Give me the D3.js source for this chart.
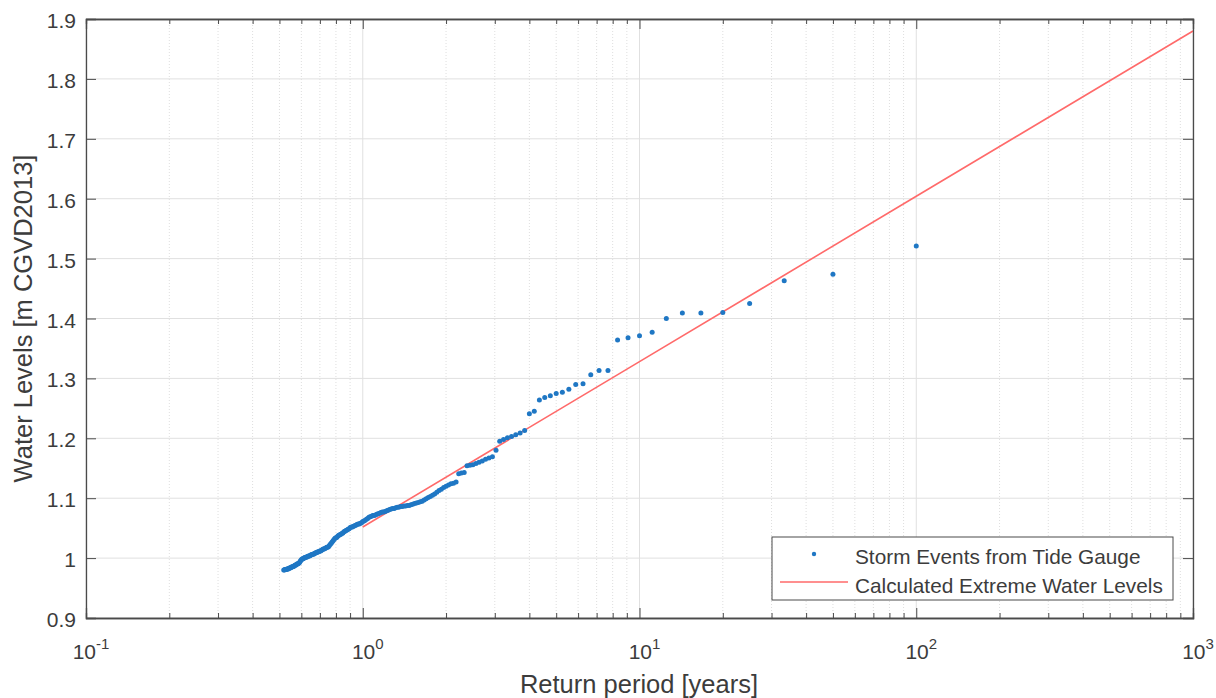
<!DOCTYPE html>
<html><head><meta charset="utf-8">
<script src="https://cdn.jsdelivr.net/npm/d3@7"></script>
<style>body{margin:0;background:#fff;} text{font-family:"Liberation Sans",Arial,sans-serif;}</style>
</head><body>
<svg id="c" width="1216" height="698"></svg>
<script>
// ---- data ----
const recordYears = 100; // plotting position: return period = recordYears / rank
const stormLevels = [
1.521,1.474,1.463,1.425,1.410,1.409,1.409,1.400,1.377,1.371,
1.368,1.364,1.313,1.313,1.306,1.291,1.290,1.282,1.277,1.275,
1.271,1.268,1.264,1.245,1.241,1.213,1.209,1.206,1.203,1.201,
1.198,1.195,1.180,1.169,1.167,1.165,1.162,1.160,1.158,1.156,
1.155,1.154,1.143,1.142,1.141,1.127,1.125,1.124,1.122,1.120,
1.118,1.115,1.113,1.110,1.107,1.105,1.103,1.101,1.099,1.097,
1.095,1.094,1.093,1.092,1.091,1.090,1.089,1.088,1.088,1.087,
1.087,1.086,1.086,1.085,1.085,1.084,1.083,1.083,1.082,1.081,
1.080,1.079,1.078,1.077,1.077,1.076,1.075,1.074,1.073,1.072,
1.071,1.071,1.070,1.069,1.068,1.066,1.065,1.063,1.062,1.061,
1.059,1.058,1.057,1.057,1.056,1.055,1.054,1.053,1.052,1.052,
1.051,1.049,1.048,1.047,1.046,1.045,1.044,1.042,1.041,1.040,
1.039,1.038,1.037,1.035,1.034,1.033,1.031,1.029,1.027,1.025,
1.023,1.021,1.019,1.018,1.018,1.017,1.016,1.015,1.015,1.014,
1.013,1.012,1.012,1.011,1.010,1.010,1.009,1.009,1.008,1.007,
1.007,1.006,1.006,1.005,1.004,1.004,1.003,1.003,1.002,1.002,
1.001,1.001,1.000,0.999,0.999,0.998,0.997,0.995,0.993,0.992,
0.991,0.990,0.990,0.989,0.988,0.988,0.987,0.986,0.986,0.985,
0.985,0.984,0.984,0.983,0.983,0.982,0.982,0.982,0.981,0.981,
0.981,0.980,0.980];
const lineReturnPeriods = [1, 10, 100, 1000];
const lineLevels = [1.052, 1.328, 1.604, 1.880];
const xTickExponents = [-1, 0, 1, 2, 3];
const yTicks = [0.9,1.0,1.1,1.2,1.3,1.4,1.5,1.6,1.7,1.8,1.9];
const yTickLabels = ["0.9","1","1.1","1.2","1.3","1.4","1.5","1.6","1.7","1.8","1.9"];
const legendLabels = ["Storm Events from Tide Gauge","Calculated Extreme Water Levels"];

// ---- layout ----
const L = 86, R = 1193, T = 19, B = 618;
const svg = d3.select("#c");
const x = d3.scaleLog().domain([0.1, 1000]).range([L, R]);
const y = d3.scaleLinear().domain([0.9, 1.9]).range([B, T]);
const axisCol = "#4a4a4a", textCol = "#3c3c3c";
const dotCol = "#1f77c4", lineCol = "#ff6a6a";

const minorX = [];
for (let e = -1; e < 3; e++) for (let m = 2; m <= 9; m++) minorX.push(m * Math.pow(10, e));
const majorX = xTickExponents.map(e => Math.pow(10, e));

const g = svg.append("g");
// grid
g.selectAll(".mgx").data(minorX).join("line")
  .attr("x1", d => x(d)).attr("x2", d => x(d)).attr("y1", T).attr("y2", B)
  .attr("stroke", "#dedede").attr("stroke-width", 1).attr("stroke-dasharray", "1,2");
g.selectAll(".gx").data(majorX).join("line")
  .attr("x1", d => x(d)).attr("x2", d => x(d)).attr("y1", T).attr("y2", B)
  .attr("stroke", "#e0e0e0").attr("stroke-width", 1);
g.selectAll(".gy").data(yTicks).join("line")
  .attr("x1", L).attr("x2", R).attr("y1", d => y(d)).attr("y2", d => y(d))
  .attr("stroke", "#e0e0e0").attr("stroke-width", 1);

// data line
const pts = lineReturnPeriods.map((p, i) => [p, lineLevels[i]]);
g.append("path").datum(pts)
  .attr("d", d3.line().x(d => x(d[0])).y(d => y(d[1])))
  .attr("fill", "none").attr("stroke", lineCol).attr("stroke-width", 1.6);

// scatter
g.selectAll(".pt").data(stormLevels).join("circle")
  .attr("cx", (d, i) => x(recordYears / (i + 1))).attr("cy", d => y(d))
  .attr("r", 2.5).attr("fill", dotCol);

// axes with inward ticks
const axB = d3.axisBottom(x).tickValues(majorX).tickSize(-10).tickFormat("");
const axT = d3.axisTop(x).tickValues(majorX).tickSize(-10).tickFormat("");
const axBm = d3.axisBottom(x).tickValues(minorX).tickSize(-5).tickFormat("");
const axTm = d3.axisTop(x).tickValues(minorX).tickSize(-5).tickFormat("");
const axL = d3.axisLeft(y).tickValues(yTicks).tickSize(-10).tickFormat("");
const axR = d3.axisRight(y).tickValues(yTicks).tickSize(-10).tickFormat("");
function style(sel) { sel.selectAll("path,line").attr("stroke", axisCol); sel.select(".domain").attr("stroke-width", 1.3); }
svg.append("g").attr("transform", `translate(0,${B})`).call(axB).call(style);
svg.append("g").attr("transform", `translate(0,${B})`).call(axBm).call(style);
svg.append("g").attr("transform", `translate(0,${T})`).call(axT).call(style);
svg.append("g").attr("transform", `translate(0,${T})`).call(axTm).call(style);
svg.append("g").attr("transform", `translate(${L},0)`).call(axL).call(style);
svg.append("g").attr("transform", `translate(${R},0)`).call(axR).call(style);

// y tick labels
svg.selectAll(".yl").data(yTicks).join("text")
  .attr("x", L - 10).attr("y", d => y(d) + 9).attr("text-anchor", "end")
  .attr("font-size", 21).attr("fill", textCol).text((d, i) => yTickLabels[i]);
// x tick labels with superscript
xTickExponents.forEach(e => {
  const t = svg.append("text").attr("x", x(Math.pow(10, e)) + 5).attr("y", 659)
    .attr("text-anchor", "middle").attr("font-size", 21).attr("fill", textCol);
  t.append("tspan").text("10");
  t.append("tspan").attr("dy", -10).attr("font-size", 15).text(String(e));
});
// axis titles
svg.append("text").attr("x", 639).attr("y", 693).attr("text-anchor", "middle")
  .attr("font-size", 25.5).attr("fill", textCol).text("Return period [years]");
svg.append("text").attr("transform", `translate(32,${(T + B) / 2}) rotate(-90)`)
  .attr("text-anchor", "middle").attr("font-size", 25.5).attr("fill", textCol)
  .text("Water Levels [m CGVD2013]");

// legend
const lg = svg.append("g");
lg.append("rect").attr("x", 772).attr("y", 537).attr("width", 401).attr("height", 63)
  .attr("fill", "#fff").attr("stroke", axisCol).attr("stroke-width", 1);
lg.append("circle").attr("cx", 814).attr("cy", 554).attr("r", 2.2).attr("fill", dotCol);
lg.append("line").attr("x1", 780).attr("x2", 848).attr("y1", 582).attr("y2", 582)
  .attr("stroke", lineCol).attr("stroke-width", 1.6);
lg.selectAll(".lt").data(legendLabels).join("text")
  .attr("x", 855).attr("y", (d, i) => 564 + i * 28.5)
  .attr("font-size", 20.8).attr("fill", textCol).text(d => d);
</script>
</body></html>
